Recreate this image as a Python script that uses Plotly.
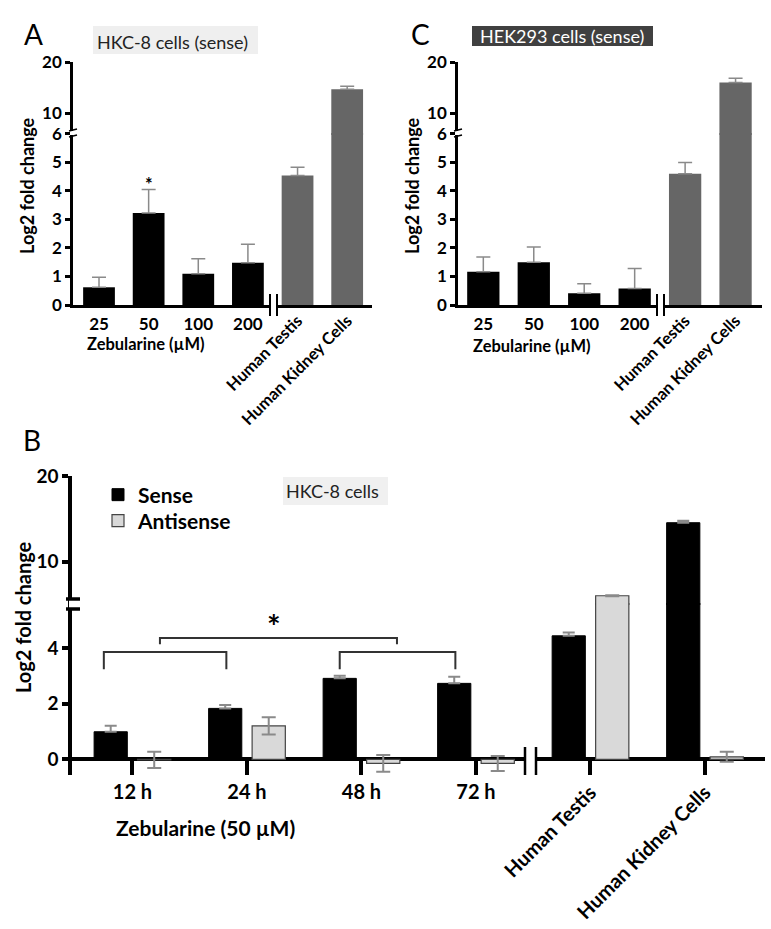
import plotly.graph_objects as go

# ---------------- data ----------------
A_categories = ['25', '50', '100', '200', 'Human Testis', 'Human Kidney Cells']
A_values = [0.62, 3.22, 1.09, 1.48, 4.53, 14.7]
A_errors = [0.35, 0.82, 0.53, 0.65, 0.29, 0.58]

C_categories = ['25', '50', '100', '200', 'Human Testis', 'Human Kidney Cells']
C_values = [1.16, 1.50, 0.41, 0.58, 4.59, 16.0]
C_errors = [0.52, 0.53, 0.33, 0.70, 0.40, 0.86]

B_categories = ['12 h', '24 h', '48 h', '72 h', 'Human Testis', 'Human Kidney Cells']
B_sense = [0.99, 1.83, 2.91, 2.73, 4.44, 14.55]
B_sense_err = [0.22, 0.12, 0.09, 0.24, 0.12, 0.23]
B_anti = [-0.02, 1.20, -0.15, -0.15, 6.03, 0.09]
B_anti_err = [0.29, 0.31, 0.30, 0.27, 0.05, 0.18]

# ---------------- helpers ----------------
W, H = 771, 929
FONT = "Lato"


def px(x):
    return x / W


def py(y):
    return 1 - y / H


def bold(size, color="black"):
    return dict(family=FONT, size=size, color=color, weight="bold")


fig = go.Figure()

panel_colors = ['#000000'] * 4 + ['#666666'] * 2


def add_single_panel(cats, vals, errs, xa, xrot, ylo, yhi):
    xs = list(range(len(cats)))
    for ya in (ylo, yhi):
        fig.add_trace(go.Bar(
            x=xs, y=vals, width=0.64,
            marker=dict(color=panel_colors, line=dict(width=0)),
            error_y=dict(type='data', array=errs, arrayminus=[0] * len(errs),
                         color='#8a8a8a', thickness=1.5, width=7),
            xaxis=xa, yaxis=ya, showlegend=False,
        ))
    # invisible anchor so the rotated-label axis is rendered
    fig.add_trace(go.Scatter(x=xs[4:], y=[0, 0], mode='markers',
                             marker=dict(opacity=0), hoverinfo='skip',
                             xaxis=xrot, yaxis=ylo, showlegend=False))


add_single_panel(A_categories, A_values, A_errors, 'x', 'x2', 'y', 'y2')
add_single_panel(C_categories, C_values, C_errors, 'x3', 'x4', 'y3', 'y4')

xsB = list(range(len(B_categories)))
for ya, show in (('y5', True), ('y6', False)):
    fig.add_trace(go.Bar(
        x=xsB, y=B_sense, name='Sense', offset=-0.335, width=0.29,
        marker=dict(color='#000000', line=dict(color='#000000', width=1)),
        error_y=dict(type='data', array=B_sense_err, arrayminus=[0] * 6,
                     color='#8a8a8a', thickness=2, width=6),
        xaxis='x5', yaxis=ya, showlegend=show, legend='legend',
    ))
    fig.add_trace(go.Bar(
        x=xsB, y=B_anti, name='Antisense', offset=0.045, width=0.29,
        marker=dict(color='#d9d9d9', line=dict(color='#444444', width=1.2)),
        error_y=dict(type='data', array=B_anti_err, color='#8a8a8a',
                     thickness=2, width=7),
        xaxis='x5', yaxis=ya, showlegend=show, legend='legend2',
    ))
fig.add_trace(go.Scatter(x=xsB[4:], y=[0, 0], mode='markers',
                         marker=dict(opacity=0), hoverinfo='skip',
                         xaxis='x6', yaxis='y5', showlegend=False))


# ---------------- axes ----------------
def yax(domain, rng, tickvals, anchor, lw, fs, tl=5):
    return dict(domain=domain, range=rng, tickvals=tickvals, anchor=anchor,
                showline=True, linecolor='black', linewidth=lw,
                ticks='outside', ticklen=tl, tickwidth=lw, tickcolor='black',
                tickfont=bold(fs), showgrid=False, zeroline=False,
                automargin=False)


def xax_main(domain, rng, cats, anchor, fs):
    return dict(domain=domain, range=rng, anchor=anchor,
                tickvals=list(range(4)), ticktext=cats[:4],
                showline=True, linecolor='black', linewidth=2.5, ticks='',
                tickfont=bold(fs), showgrid=False, zeroline=False,
                ticklabelstandoff=2, automargin=False)


def xax_rot(over, rng, cats, anchor, fs, standoff=2):
    return dict(overlaying=over, range=rng, anchor=anchor, side='bottom',
                tickvals=[4, 5], ticktext=cats[4:], tickangle=-45,
                showline=False, ticks='', tickfont=bold(fs),
                showgrid=False, zeroline=False, ticklabelstandoff=standoff,
                automargin=False)


A_xr = [-0.524, 5.5]
C_xr = [-0.502, 5.524]
B_xr = [-0.528, 5.524]

legend_common = dict(xanchor='left', yanchor='middle', font=bold(21),
                     bgcolor='rgba(0,0,0,0)', itemwidth=30)

fig.update_layout(
    xaxis=xax_main([px(73), px(372)], A_xr, A_categories, 'y', 17),
    xaxis2=xax_rot('x', A_xr, A_categories, 'y', 16.5),
    yaxis=yax([py(305), py(133)], [0, 6.02], [0, 1, 2, 3, 4, 5, 6], 'x', 2.5, 17),
    yaxis2=yax([py(135), py(62)], [5.8, 20], [10, 20], 'x', 2.5, 17),
    xaxis3=xax_main([px(458), px(762)], C_xr, C_categories, 'y3', 17),
    xaxis4=xax_rot('x3', C_xr, C_categories, 'y3', 16.5),
    yaxis3=yax([py(305), py(133)], [0, 6.02], [0, 1, 2, 3, 4, 5, 6], 'x3', 2.5, 17),
    yaxis4=yax([py(135), py(62)], [5.8, 20], [10, 20], 'x3', 2.5, 17),
    xaxis5=dict(domain=[px(72), px(765)], range=B_xr, anchor='y5',
                tickvals=list(range(6)), ticktext=B_categories[:4] + ['', ''],
                showline=False, ticks='inside', ticklen=14, tickwidth=3.5,
                tickcolor='black', tickfont=bold(20), showgrid=False,
                zeroline=False, ticklabelstandoff=3, automargin=False),
    xaxis6=xax_rot('x5', B_xr, B_categories, 'y5', 20, standoff=1),
    yaxis5=dict(yax([py(775), py(603)], [-0.565, 5.62], [0, 2, 4], 'x5', 3.5, 19, 6),
                zeroline=True, zerolinecolor='black', zerolinewidth=3.5),
    yaxis6=yax([py(605), py(476)], [4.95, 20], [10, 20], 'x5', 3.5, 19, 6),
    barmode='overlay',
    width=W, height=H, autosize=False,
    margin=dict(l=0, r=0, t=0, b=0, pad=0),
    paper_bgcolor='white', plot_bgcolor='rgba(0,0,0,0)',
    font=dict(family=FONT, color='black'),
    legend=dict(x=px(98), y=py(495), **legend_common),
    legend2=dict(x=px(98), y=py(521), **legend_common),
)

# ---------------- decorations ----------------
shapes = []


def rect(x0, y0, x1, y1, color, layer='below'):
    shapes.append(dict(type='rect', xref='paper', yref='paper',
                       x0=px(x0), x1=px(x1), y0=py(y1), y1=py(y0),
                       fillcolor=color, line=dict(width=0), layer=layer))


def line(x0, y0, x1, y1, w, color='black'):
    shapes.append(dict(type='line', xref='paper', yref='paper',
                       x0=px(x0), x1=px(x1), y0=py(y0), y1=py(y1),
                       line=dict(color=color, width=w), layer='above'))


# title boxes
rect(93, 26, 258, 54, '#efefef')
rect(472, 26, 653, 46, '#404040')
rect(283, 477, 388, 505, '#f0f0f0')

# x axis breaks
for xb, y0, y1 in ((273.5, 294, 316), (660.5, 294, 316)):
    rect(xb - 3.5, 300, xb + 3.5, 310, 'white', layer='above')
    line(xb - 3.5, y0, xb - 3.5, y1, 2)
    line(xb + 3.5, y0, xb + 3.5, y1, 2)
rect(524, 753, 537, 767, 'white', layer='above')
line(525, 747, 525, 775, 2.5)
line(536, 747, 536, 775, 2.5)

# y axis breaks (A, C)
for xa in (73, 458):
    rect(xa - 3, 131, xa + 3, 135, 'white', layer='above')
    line(xa - 4, 131, xa + 4, 129, 1.8)
    line(xa - 4, 137, xa + 4, 135, 1.8)
# y axis break (B)
rect(69, 600, 76, 608, 'white', layer='above')
line(66, 599, 80, 599, 3.5)
line(66, 609, 80, 609, 3.5)

# significance brackets in B (data coordinates)
for x0, x1, ytop, yleg in ((-0.25, 0.82, 3.86, 3.24), (1.81, 2.82, 3.86, 3.24),
                           (0.24, 2.31, 4.36, 4.14)):
    shapes.append(dict(type='path', xref='x5', yref='y5',
                       path=f'M{x0},{yleg} L{x0},{ytop} L{x1},{ytop} L{x1},{yleg}',
                       line=dict(color='#333333', width=2)))

annotations = []


def text(x, y, s, font, angle=0, xanchor='center', yanchor='middle'):
    annotations.append(dict(xref='paper', yref='paper', x=px(x), y=py(y),
                            text=s, font=font, showarrow=False,
                            textangle=angle, xanchor=xanchor, yanchor=yanchor))


text(33, 34, 'A', dict(family=FONT, size=28, color='black'))
text(421, 34, 'C', dict(family=FONT, size=28, color='black'))
text(32, 440, 'B', dict(family=FONT, size=28, color='black'))

text(172, 42, 'HKC-8 cells (sense)', dict(family=FONT, size=18, color='#222222'))
text(562, 36, 'HEK293 cells (sense)', dict(family=FONT, size=18, color='white'))
text(332, 491, 'HKC-8 cells', dict(family=FONT, size=18, color='#222222'))

text(27, 186, 'Log2 fold change', bold(18), angle=-90)
text(412, 186, 'Log2 fold change', bold(18), angle=-90)
text(23, 617, 'Log2 fold change', bold(20), angle=-90)

text(146, 344, 'Zebularine (µM)', bold(16.5))
text(532, 346, 'Zebularine (µM)', bold(16.5))
text(205, 827, 'Zebularine (50 µM)', bold(21))

text(149, 184, '*', bold(18))
text(274, 626, '*', bold(32))

fig.update_layout(shapes=shapes, annotations=annotations)

fig.write_html("out.html", config={'displayModeBar': False},
               post_script="document.body.style.margin='0';")
